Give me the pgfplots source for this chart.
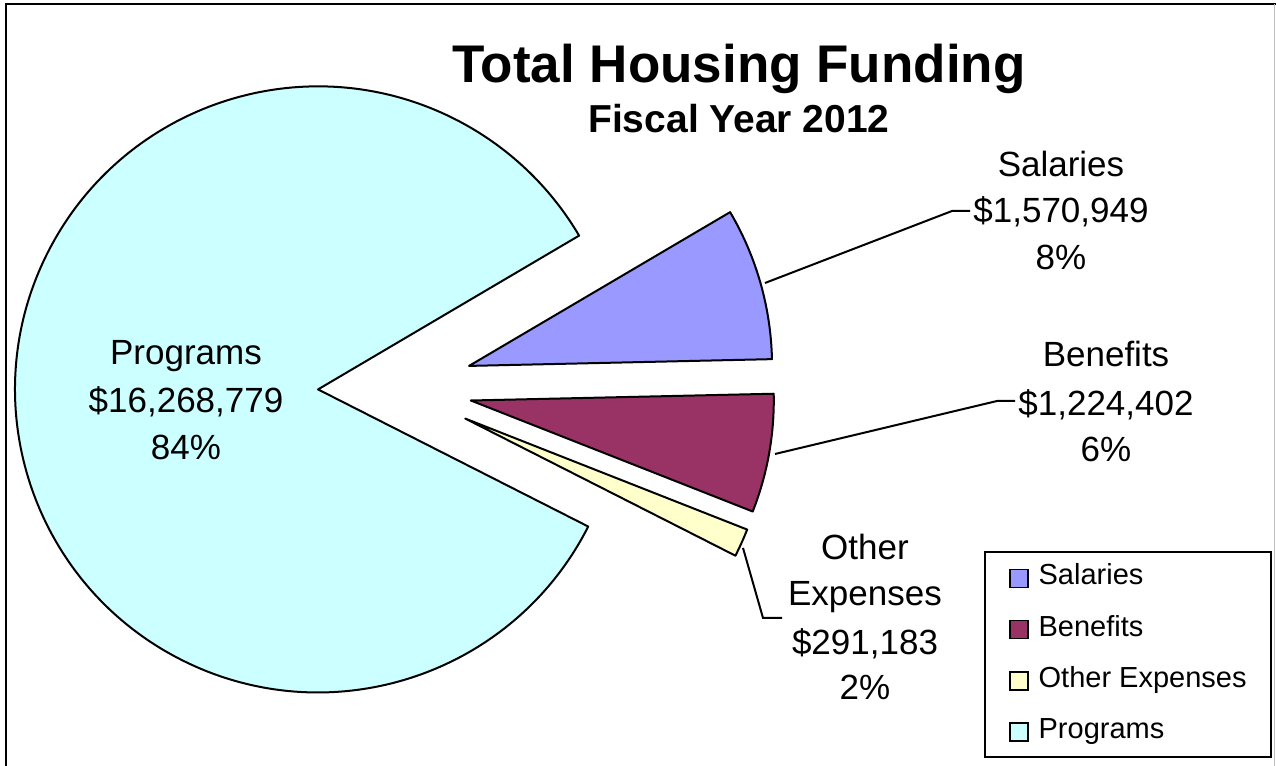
\documentclass[border=0pt]{standalone}
\usepackage{pgfplots}
\pgfplotsset{compat=1.18}
\usepackage{fontspec}
\setmainfont{Liberation Sans}
\definecolor{cSal}{HTML}{9999FF}
\definecolor{cBen}{HTML}{993366}
\definecolor{cOth}{HTML}{FFFFCC}
\definecolor{cPro}{HTML}{CCFFFF}
% data
\def\vSal{1570949}
\def\vBen{1224402}
\def\vOth{291183}
\def\vPro{16268779}
\edef\vTot{\fpeval{\vSal+\vBen+\vOth+\vPro}}
\def\aA{30.5}
\edef\aB{\fpeval{round(\aA-360*\vSal/\vTot,4)}}
\edef\aC{\fpeval{round(\aB-360*\vBen/\vTot,4)}}
\edef\aD{\fpeval{round(\aC-360*\vOth/\vTot,4)}}
\edef\aE{\fpeval{round(\aA-360,4)}}
\def\R{151.5pt}
\pgfplotsset{sq legend/.style={legend image code/.code={%
  \filldraw[##1, line width=0.8pt] (0pt,-5pt) rectangle (9pt,4pt);}}}
\begin{document}
\begin{tikzpicture}
\begin{axis}[
  width=638pt, height=383pt, scale only axis,
  xmin=0, xmax=1276, ymin=0, ymax=766,
  hide axis, clip=false,
  legend style={at={(0.7712,0.0104)}, anchor=south west, draw=black,
    line width=1pt, fill=white, inner xsep=12pt, inner ysep=7.5pt,
    font=\fontsize{14.5pt}{16pt}\selectfont, row sep=15pt,
    nodes={text height=9pt, text depth=1.5pt, inner sep=0pt},
    /tikz/every odd column/.append style={column sep=5pt}},
  legend cell align=left,
]
\path (axis cs:0,0) rectangle (axis cs:1276,766);
% legend entries
\addlegendimage{sq legend, fill=cSal, draw=black}
\addlegendentry{Salaries}
\addlegendimage{sq legend, fill=cBen, draw=black}
\addlegendentry{Benefits}
\addlegendimage{sq legend, fill=cOth, draw=black}
\addlegendentry{Other Expenses}
\addlegendimage{sq legend, fill=cPro, draw=black}
\addlegendentry{Programs}
% borders
\draw[line width=1pt] (axis cs:6,0) -- (axis cs:6,761.5) -- (axis cs:1276,761.5);
\draw[black!25, line width=0.5pt] (axis cs:1274.5,0) -- (axis cs:1274.5,761.5);
% wedges
\filldraw[fill=cSal, draw=black, line width=1pt, line join=round]
  (axis cs:{395+77*cos((\aA+\aB)/2)},{379+77*sin((\aA+\aB)/2)}) -- ++(\aA:\R)
  arc[start angle=\aA, end angle=\aB, radius=\R] -- cycle;
\filldraw[fill=cBen, draw=black, line width=1pt, line join=round]
  (axis cs:{395+77*cos((\aB+\aC)/2)},{379+77*sin((\aB+\aC)/2)}) -- ++(\aB:\R)
  arc[start angle=\aB, end angle=\aC, radius=\R] -- cycle;
\filldraw[fill=cOth, draw=black, line width=1pt, line join=round]
  (axis cs:{395+77*cos((\aC+\aD)/2)},{379+77*sin((\aC+\aD)/2)}) -- ++(\aC:\R)
  arc[start angle=\aC, end angle=\aD, radius=\R] -- cycle;
\filldraw[fill=cPro, draw=black, line width=1pt, line join=round]
  (axis cs:{395+77*cos((\aD+\aE)/2)},{379+77*sin((\aD+\aE)/2)}) -- ++(\aD:\R)
  arc[start angle=\aD, end angle=\aE, radius=\R] -- cycle;
% leader lines
\draw[line width=1pt] (axis cs:765,483) -- (axis cs:952,555) -- (axis cs:970,555);
\draw[line width=1pt] (axis cs:775,312) -- (axis cs:997,365) -- (axis cs:1015,365);
\draw[line width=1pt] (axis cs:743,218) -- (axis cs:763,148) -- (axis cs:782,148);
% titles
\node[anchor=base, font=\fontsize{26.5pt}{30pt}\selectfont\bfseries] at (axis cs:739,683) {Total Housing Funding};
\node[anchor=base, font=\fontsize{19.5pt}{23pt}\selectfont\bfseries] at (axis cs:739,633) {Fiscal Year 2012};
% data labels
\begin{scope}[every node/.style={anchor=base, font=\fontsize{17.5pt}{21pt}\selectfont}]
\node at (axis cs:1061,589) {Salaries};
\node at (axis cs:1061,543) {\$1,570,949};
\node at (axis cs:1061,496) {8\%};
\node at (axis cs:1106,399) {Benefits};
\node at (axis cs:1106,350) {\$1,224,402};
\node at (axis cs:1106,304) {6\%};
\node at (axis cs:865,206) {Other};
\node at (axis cs:865,160) {Expenses};
\node at (axis cs:865,111) {\$291,183};
\node at (axis cs:865,66) {2\%};
\node at (axis cs:186,401) {Programs};
\node at (axis cs:186,353) {\$16,268,779};
\node at (axis cs:186,306) {84\%};
\end{scope}
\end{axis}
\pgfresetboundingbox
\path (0,0) rectangle (638pt,383pt);
\end{tikzpicture}
\end{document}
